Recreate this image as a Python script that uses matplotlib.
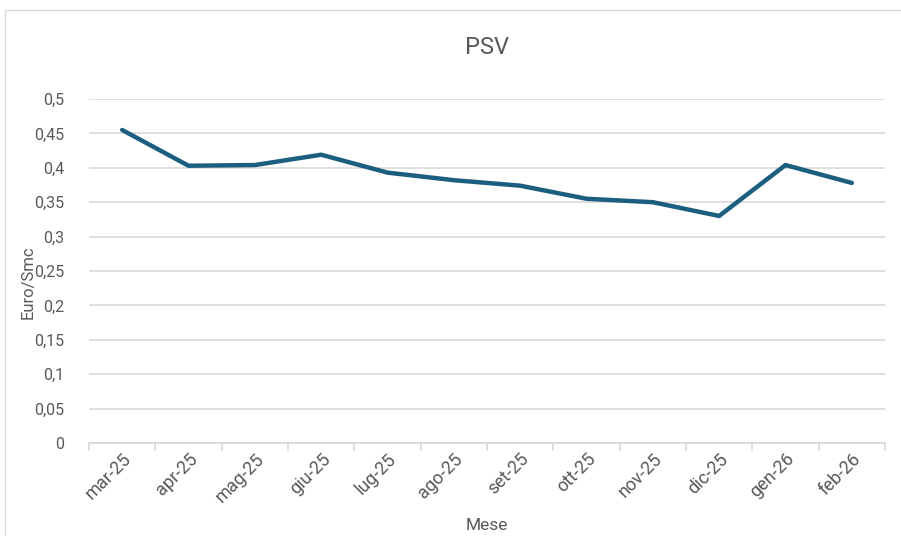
import matplotlib
matplotlib.use("Agg")
import matplotlib.pyplot as plt
from matplotlib.patches import Rectangle
from matplotlib.ticker import FuncFormatter, MultipleLocator, FixedLocator
import numpy as np

# PSV monthly price, Euro/Smc
mesi = ["mar-25", "apr-25", "mag-25", "giu-25", "lug-25", "ago-25",
        "set-25", "ott-25", "nov-25", "dic-25", "gen-26", "feb-26"]
psv = [0.455, 0.403, 0.404, 0.419, 0.393, 0.382,
       0.374, 0.355, 0.350, 0.330, 0.404, 0.378]

LINE = "#1B5E80"
GRID = "#D9D9D9"
TXT = "#595959"

plt.rcParams["font.family"] = ["Roboto", "DejaVu Sans"]

fig = plt.figure(figsize=(9.01, 5.36), dpi=100)
ax = fig.add_axes([89 / 901, 1 - 443 / 536, (885 - 89) / 901, (443 - 99) / 536])

# chart frame
fig.patches.append(Rectangle((5 / 901, -0.05), 1.0, 1 - 10 / 536 + 0.05,
                             transform=fig.transFigure, fill=False,
                             ec="#D9D9D9", lw=1.0))

x = np.arange(len(mesi))
ax.plot(x, psv, color=LINE, lw=3.2, solid_capstyle="round",
        solid_joinstyle="round", zorder=3)

ax.set_xlim(-0.5, len(mesi) - 0.5)
ax.set_ylim(0, 0.5)
ax.yaxis.set_major_locator(MultipleLocator(0.05))
ax.yaxis.set_major_formatter(FuncFormatter(
    lambda v, _: "0" if abs(v) < 1e-9 else f"{v:.2f}".rstrip("0").replace(".", ",")))
ax.grid(axis="y", color=GRID, lw=1.2, zorder=0)
ax.set_axisbelow(True)

for s in ["top", "right", "left"]:
    ax.spines[s].set_visible(False)
ax.spines["bottom"].set_color(GRID)
ax.spines["bottom"].set_linewidth(1.2)

# category boundaries as tick marks, labels at centers
ax.xaxis.set_major_locator(FixedLocator(np.arange(-0.5, len(mesi), 1.0)))
ax.xaxis.set_major_formatter(FuncFormatter(lambda v, _: ""))
ax.xaxis.set_minor_locator(FixedLocator(x))
ax.set_xticklabels(mesi, minor=True)
ax.tick_params(axis="x", which="major", length=6, color=GRID, width=1.2)
ax.tick_params(axis="x", which="minor", length=0, pad=5, labelsize=13,
               labelcolor=TXT)
for lab in ax.get_xticklabels(minor=True):
    lab.set_rotation(45)
    lab.set_ha("right")
    lab.set_rotation_mode("anchor")
ax.tick_params(axis="y", length=0, labelsize=11.5, labelcolor=TXT, pad=18)

fig.text(487 / 901, 1 - 48 / 536, "PSV", ha="center", va="center",
         fontsize=17, color=TXT)
fig.text(487 / 901, 1 - 525 / 536, "Mese", ha="center", va="center",
         fontsize=12.5, color=TXT)
fig.text(28 / 901, 1 - 282 / 536, "Euro/Smc", ha="center", va="center",
         rotation=90, fontsize=12, color=TXT)

fig.savefig("out.png", dpi=100, facecolor="white")
